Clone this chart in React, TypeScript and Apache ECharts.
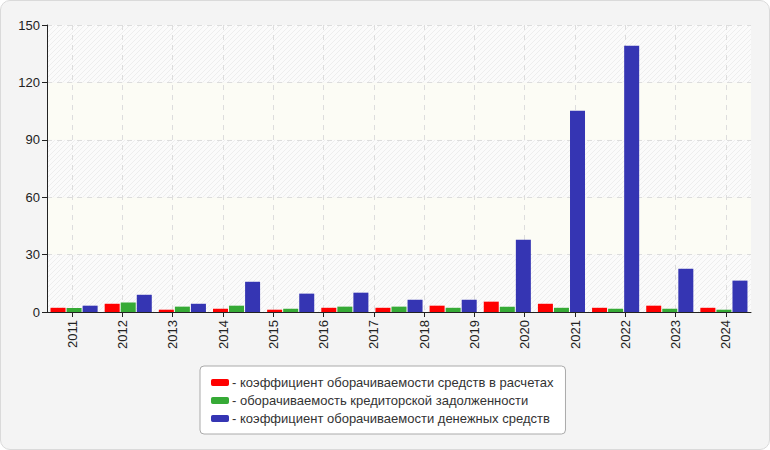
import React, { useEffect, useRef } from "react";
import * as echarts from "echarts";

const periods = ["P1", "P2", "P3", "P4", "P5", "P6", "P7", "P8", "P9", "P10", "P11", "P12", "P13"];
const yearLabels = ["2011", "2012", "2013", "2014", "2015", "2016", "2017", "2018", "2019", "2020", "2021", "2022", "2023", "2024"];

const redValues = [2.2, 4.3, 1.2, 1.7, 1.2, 2.2, 2.2, 3.3, 5.4, 4.3, 2.2, 3.3, 2.2];
const greenValues = [2.1, 4.9, 2.8, 3.3, 1.7, 2.8, 2.8, 2.2, 2.8, 2.2, 1.7, 1.7, 1.2];
const blueValues = [3.3, 9.0, 4.3, 15.8, 9.6, 10.1, 6.4, 6.4, 37.8, 105.2, 139.2, 22.6, 16.4];

const seriesNames = [
  "коэффициент оборачиваемости средств в расчетах",
  "оборачиваемость кредиторской задолженности",
  "коэффициент оборачиваемости денежных средств",
];

function makeHatch(bg: string, line: string): string {
  const s = 5;
  const c = document.createElement("canvas");
  c.width = s;
  c.height = s;
  const ctx = c.getContext("2d");
  if (ctx) {
    ctx.fillStyle = bg;
    ctx.fillRect(0, 0, s, s);
    ctx.strokeStyle = line;
    ctx.lineWidth = 1;
    ctx.beginPath();
    ctx.moveTo(0, s);
    ctx.lineTo(s, 0);
    ctx.moveTo(-s, s);
    ctx.lineTo(s, -s);
    ctx.moveTo(0, 2 * s);
    ctx.lineTo(2 * s, 0);
    ctx.stroke();
  }
  return c.toDataURL();
}

export default function App() {
  const ref = useRef<HTMLDivElement>(null);

  useEffect(() => {
    if (!ref.current) return;
    const chart = echarts.init(ref.current, undefined, { renderer: "svg" });
    const hatch = makeHatch("#fbfbfb", "#eeeeee");
    const font = "Arial, 'Liberation Sans', sans-serif";
    const colors = ["#ff0000", "#36aa36", "#3535b3"];
    const values = [redValues, greenValues, blueValues];

    chart.setOption({
      animation: false,
      textStyle: { fontFamily: font },
      grid: { left: 47, right: 19, top: 25, bottom: 138, containLabel: false },
      xAxis: [
        {
          type: "category",
          data: periods,
          show: false,
        },
        {
          type: "category",
          data: yearLabels,
          position: "bottom",
          axisLine: { show: true, lineStyle: { color: "#222", width: 1 } },
          axisTick: { show: true, alignWithLabel: true, length: 5, lineStyle: { color: "#222" } },
          axisLabel: { rotate: 90, fontSize: 13, color: "#222", margin: 8, fontFamily: font },
          splitLine: {
            show: true,
            alignWithLabel: true,
            lineStyle: { color: "#dddddd", type: [5, 5], width: 1 },
          },
        },
      ],
      yAxis: {
        type: "value",
        min: 0,
        max: 150,
        interval: 30,
        axisLine: { show: true, lineStyle: { color: "#222", width: 1 } },
        axisTick: { show: true, length: 5, lineStyle: { color: "#222" } },
        axisLabel: { fontSize: 13, color: "#222", margin: 7, fontFamily: font },
        splitLine: { show: true, lineStyle: { color: "#dddddd", type: [5, 5], width: 1 } },
        splitArea: {
          show: true,
          areaStyle: {
            color: [{ image: hatch, repeat: "repeat" }, "#fcfcf5"],
          },
        },
      },
      legend: {
        orient: "vertical",
        left: 200,
        top: 366,
        backgroundColor: "#ffffff",
        borderColor: "#aaaaaa",
        borderWidth: 1,
        borderRadius: 4,
        padding: [10, 12, 9, 11],
        itemGap: 5,
        itemWidth: 18,
        itemHeight: 7,
        icon: "roundRect",
        formatter: (name: string) => "- " + name,
        textStyle: { fontSize: 13, color: "#333", fontFamily: font, padding: [0, 0, 0, -2] },
        data: seriesNames,
      },
      series: values.map((v, i) => ({
        type: "bar",
        name: seriesNames[i],
        xAxisIndex: 0,
        data: v,
        barWidth: 15,
        barGap: "7%",
        itemStyle: { color: colors[i] },
        emphasis: { disabled: true },
      })),
    });

    return () => chart.dispose();
  }, []);

  return (
    <div style={{ position: "fixed", left: 0, top: 0, width: 770, height: 450 }}>
      <div
        style={{
          position: "absolute",
          left: 0,
          top: 0,
          width: 770,
          height: 450,
          boxSizing: "border-box",
          border: "1px solid #dadada",
          borderRadius: 10,
          background: "#f4f4f4",
        }}
      />
      <div ref={ref} style={{ position: "absolute", left: 0, top: 0, width: 770, height: 450 }} />
    </div>
  );
}
